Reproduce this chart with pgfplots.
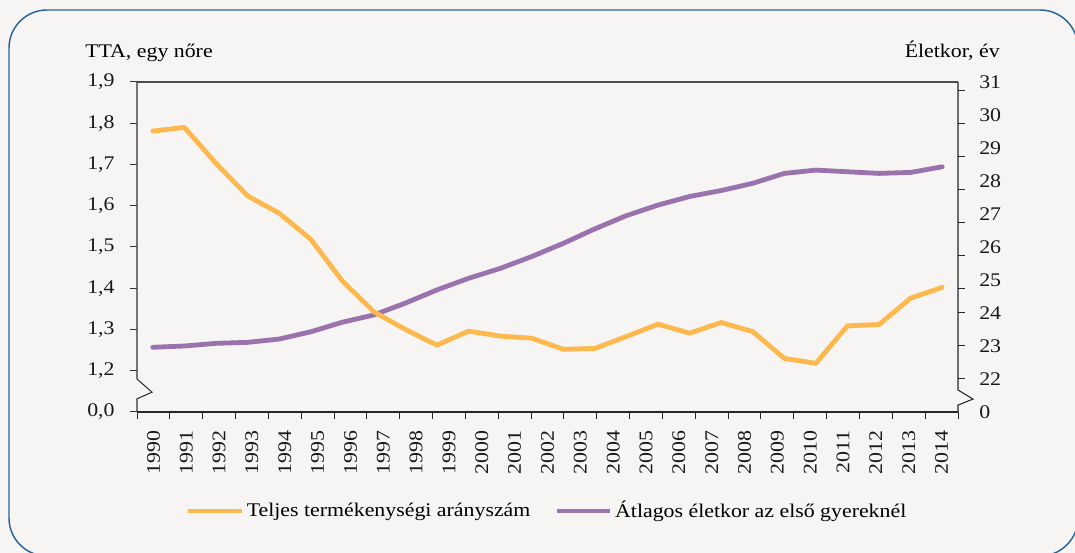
\documentclass[border=0pt]{standalone}
\usepackage{fontspec}
\setmainfont{Liberation Serif}[FakeStretch=1.13]
\usepackage{pgfplots}
\pgfplotsset{compat=1.18}
\definecolor{bg}{HTML}{F6F5F3}
\definecolor{frameblue}{HTML}{2A6496}
\definecolor{tfr}{HTML}{FDB94E}
\definecolor{age}{HTML}{9A72AD}
\newcommand\chartfont{\fontsize{14.5}{17}\selectfont}

\pgfplotstableread{
x tfr
0 1.781
1 1.790
2 1.703
3 1.624
4 1.582
5 1.519
6 1.418
7 1.343
8 1.300
9 1.262
10 1.296
11 1.284
12 1.279
13 1.252
14 1.254
15 1.283
16 1.313
17 1.291
18 1.317
19 1.295
20 1.230
21 1.218
22 1.309
23 1.312
24 1.376
25 1.402
}\tfrdata

\pgfplotstableread{
x age
0 22.96
1 23.00
2 23.08
3 23.11
4 23.21
5 23.43
6 23.72
7 23.94
8 24.30
9 24.70
10 25.05
11 25.35
12 25.71
13 26.11
14 26.55
15 26.95
16 27.27
17 27.53
18 27.71
19 27.93
20 28.23
21 28.33
22 28.28
23 28.23
24 28.26
25 28.43
}\agedata

\begin{document}
\chartfont
\begin{tikzpicture}
\fill[bg] (0,0) rectangle (806.25pt,414.75pt);
\begin{scope}
\clip (0,0) rectangle (806.25pt,414.75pt);
\draw[frameblue, line width=1.1pt, rounded corners=28.5pt] (6.75pt,-2.25pt) rectangle (808.5pt,407.25pt);
\end{scope}

\pgfplotsset{base/.style={at={(102.75pt,105.75pt)}, anchor=south west, scale only axis,
  width=615.75pt, height=247.5pt, axis line style={draw=none},
  every tick label/.append style={font=\chartfont, text=black!90},
  /pgf/number format/assume math mode=true, clip=false}}

% frame, x labels, legend
\begin{axis}[base, xmin=-0.5, xmax=24.5, ymin=0, ymax=1, ytick=\empty,
  xtick={-0.5,0.5,...,24.5}, x tick label as interval,
  xticklabels={1990,1991,1992,1993,1994,1995,1996,1997,1998,1999,2000,2001,2002,2003,2004,2005,2006,2007,2008,2009,2010,2011,2012,2013,2014},
  xtick pos=lower, tick align=outside, major tick length=5.6pt,
  major tick style={black!85, line width=0.75pt},
  x tick label style={rotate=90, anchor=east, inner sep=0pt, xshift=-8pt},
  legend style={at={(0.5,-0.3)}, anchor=center, draw=none, fill=none, font=\chartfont,
    /tikz/every even column/.append style={column sep=16pt}},
  legend columns=2, legend cell align=left,
  legend image code/.code={\draw[#1, line width=3.6pt] (-2pt,0pt) -- (38pt,0pt);}]
\addlegendimage{tfr}
\addlegendentry{Teljes termékenységi arányszám}
\addlegendimage{age}
\addlegendentry{Átlagos életkor az első gyereknél}
\draw[black!70, line width=0.8pt] (rel axis cs:0,1) -- (rel axis cs:1,1);
\draw[black!85, line width=0.8pt] (rel axis cs:0,0) -- (rel axis cs:1,0);
\draw[black!80, line width=0.8pt, line join=miter] (rel axis cs:0,1) -- (rel axis cs:0,0.1) -- ([xshift=11.25pt]rel axis cs:0,0.06) -- (rel axis cs:0,0.04) -- (rel axis cs:0,0);
\draw[black!85, line width=0.8pt, line join=miter] (rel axis cs:1,1) -- (rel axis cs:1,0.0667) -- ([xshift=11.25pt]rel axis cs:1,0.039) -- (rel axis cs:1,0.021) -- (rel axis cs:1,0);
\end{axis}

% right axis: age at first birth
\begin{axis}[base, xmin=-0.5, xmax=25.5, ymin=21, ymax=31, xtick=\empty,
  ytick={21,22,23,24,25,26,27,28,29,30,31},
  yticklabels={0,22,23,24,25,26,27,28,29,30,31},
  ytick pos=right, major tick length=0pt,
  y tick label style={anchor=west, inner sep=0pt, xshift=15.75pt}]
\pgfplotsinvokeforeach{22,23,24,24.75,25.75,26.75,27.75,28.75,29.75,30.75}{
  \draw[black!85, line width=0.75pt] (axis cs:25.5,#1) -- ([xshift=5pt]axis cs:25.5,#1);
}
\addplot[age, line width=3.6pt, line join=round, line cap=round, mark=none] table[x=x, y=age] {\agedata};
\end{axis}

% left axis: total fertility rate
\begin{axis}[base, xmin=-0.5, xmax=25.5, ymin=1.1, ymax=1.9, xtick=\empty,
  ytick={1.1,1.2,1.3,1.4,1.5,1.6,1.7,1.8,1.9},
  yticklabels={{0,0},{1,2},{1,3},{1,4},{1,5},{1,6},{1,7},{1,8},{1,9}},
  ytick pos=left, tick align=outside, major tick length=5.6pt,
  major tick style={black!80, line width=0.75pt},
  y tick label style={anchor=east, inner sep=0pt, xshift=-11pt}]
\addplot[tfr, line width=3.6pt, line join=round, line cap=round, mark=none] table[x=x, y=tfr] {\tfrdata};
\end{axis}

\node[anchor=base west, inner sep=0pt] at (63.75pt,371.25pt) {TTA, egy nőre};
\node[anchor=base east, inner sep=0pt] at (750pt,371.25pt) {Életkor, év};

\pgfresetboundingbox
\path[use as bounding box] (0,0) rectangle (806.25pt,414.75pt);
\end{tikzpicture}
\end{document}
